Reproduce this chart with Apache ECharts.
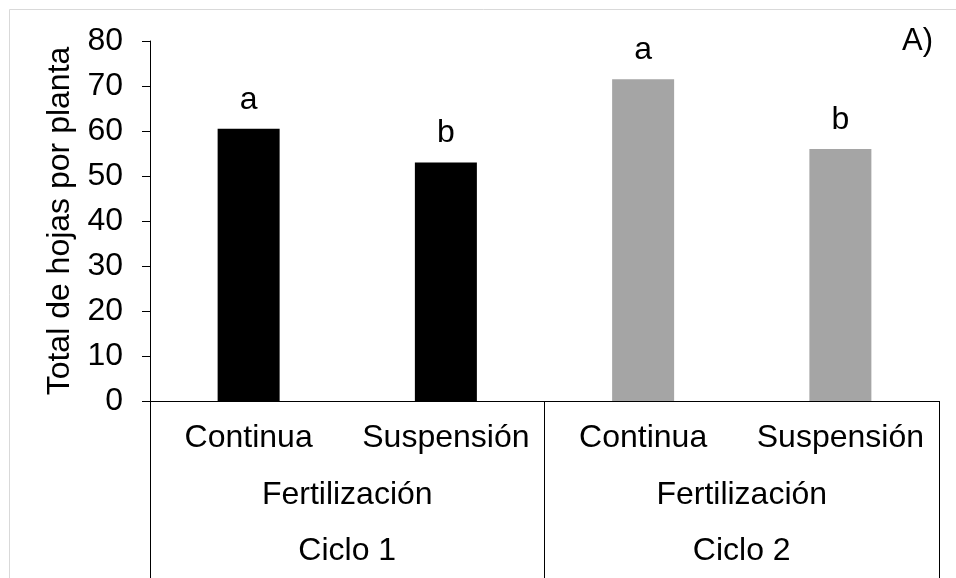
<!DOCTYPE html>
<html>
<head>
<meta charset="utf-8">
<script src="https://cdn.jsdelivr.net/npm/echarts@6/dist/echarts.min.js"></script>
<style>
html,body{margin:0;padding:0;background:#fff;}
#chart{width:956px;height:578px;}
</style>
</head>
<body>
<div id="chart"></div>
<script>
var categories = ['Continua', 'Suspensión', 'Continua', 'Suspensión'];
var values = [60.5, 53, 71.5, 56];
var letters = ['a', 'b', 'a', 'b'];
var barColors = ['#000000', '#000000', '#a5a5a5', '#a5a5a5'];
var factorLabels = ['Fertilización', 'Fertilización'];
var cycleLabels = ['Ciclo 1', 'Ciclo 2'];
var yName = 'Total de hojas por planta';
var panelTag = 'A)';
var yMin = 0, yMax = 80, yStep = 10;

var FONT = 'Liberation Sans, Arial, sans-serif';
var FS = 32;
var gridBox = {left: 150, right: 17, top: 41, bottom: 177, containLabel: false};

var chart = echarts.init(document.getElementById('chart'), null, {renderer: 'canvas'});

var option = {
  backgroundColor: '#ffffff',
  animation: false,
  textStyle: {fontFamily: FONT},
  graphic: [
    {type: 'rect', shape: {x: 9.5, y: 9.5, width: 980, height: 600},
     style: {fill: 'none', stroke: '#d9d9d9', lineWidth: 1}, z: 0, silent: true},
    {type: 'text', right: 23, top: 26,
     style: {text: panelTag, font: '31px ' + FONT, fill: '#000', textAlign: 'right'}}
  ],
  grid: [
    Object.assign({}, gridBox),
    Object.assign({}, gridBox),
    Object.assign({}, gridBox)
  ],
  xAxis: [
    {
      type: 'category', gridIndex: 0, data: categories, position: 'bottom',
      axisLine: {show: true, lineStyle: {color: '#000', width: 1}},
      axisTick: {show: false},
      axisLabel: {interval: 0, margin: 21, fontSize: FS, color: '#000', fontFamily: FONT},
      splitLine: {show: false}
    },
    {
      type: 'category', gridIndex: 1, data: factorLabels, position: 'bottom',
      axisLine: {show: false},
      axisTick: {show: false},
      axisLabel: {interval: 0, margin: 78, fontSize: FS, color: '#000', fontFamily: FONT},
      splitLine: {show: false}
    },
    {
      type: 'category', gridIndex: 2, data: cycleLabels, position: 'bottom',
      axisLine: {show: false},
      axisTick: {show: true, inside: false, length: 180, interval: 0,
                 lineStyle: {color: '#000', width: 1}},
      axisLabel: {interval: 0, margin: 134, fontSize: FS, color: '#000', fontFamily: FONT},
      splitLine: {show: false}
    }
  ],
  yAxis: [
    {
      type: 'value', gridIndex: 0, min: yMin, max: yMax, interval: yStep,
      name: yName, nameLocation: 'middle', nameGap: 72,
      nameTextStyle: {fontSize: FS, color: '#000', fontFamily: FONT},
      axisLine: {show: true, lineStyle: {color: '#000', width: 1}},
      axisTick: {show: true, inside: false, length: 8, lineStyle: {color: '#000', width: 1}},
      axisLabel: {margin: 27, fontSize: FS, color: '#000', fontFamily: FONT},
      splitLine: {show: false}
    },
    {type: 'value', gridIndex: 1, min: yMin, max: yMax, show: false},
    {type: 'value', gridIndex: 2, min: yMin, max: yMax, show: false}
  ],
  series: [
    {
      type: 'bar', xAxisIndex: 0, yAxisIndex: 0, barWidth: 62,
      data: values.map(function (v, i) {
        return {value: v, itemStyle: {color: barColors[i]},
                label: {formatter: letters[i]}};
      }),
      label: {show: true, position: 'top', distance: 13, fontSize: FS,
              color: '#000', fontFamily: FONT}
    }
  ]
};
chart.setOption(option);
</script>
</body>
</html>
